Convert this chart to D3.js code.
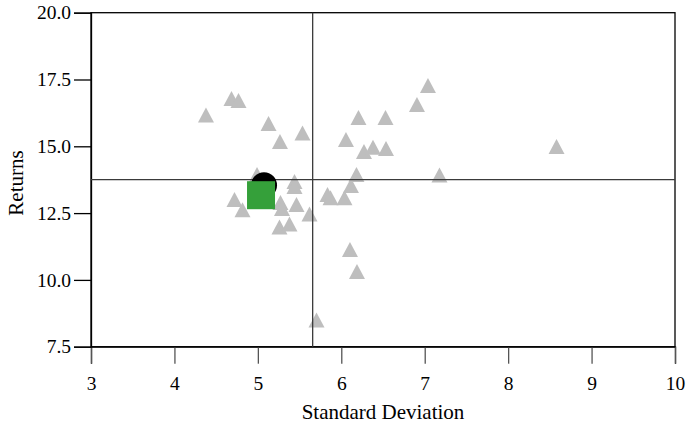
<!DOCTYPE html>
<html>
<head>
<meta charset="utf-8">
<script src="https://cdn.jsdelivr.net/npm/d3@7"></script>
<style>
  html, body { margin: 0; padding: 0; background: #fff; }
  svg { display: block; }
  svg text { font-family: "Liberation Serif", "Times New Roman", serif !important; fill: #000; }
</style>
</head>
<body>
<svg id="chart" width="688" height="427"></svg>
<script>
// Data: portfolios (standard deviation, returns)
const stdDev = [4.378, 4.684, 4.768, 5.128, 5.265, 5.535, 7.039, 6.907, 6.206, 6.530,
                6.056, 6.272, 6.380, 6.536, 8.580, 7.177, 6.182, 6.116, 6.038, 5.835,
                5.871, 4.990, 4.720, 4.816, 5.439, 5.439, 5.271, 5.289, 5.463, 5.619,
                5.259, 5.379, 6.104, 6.188, 5.703];
const returns = [16.17, 16.79, 16.71, 15.85, 15.18, 15.50, 17.28, 16.56, 16.08, 16.08,
                 15.25, 14.81, 14.96, 14.92, 14.99, 13.93, 13.94, 13.53, 13.07, 13.20,
                 13.07, 13.94, 13.01, 12.63, 13.68, 13.50, 12.90, 12.67, 12.82, 12.47,
                 11.98, 12.09, 11.14, 10.31, 8.50];
const circlePoint = [5.074, 13.54];
const squarePoint = [5.038, 13.17];
const meanStd = 5.657;
const meanRet = 13.75;
const xTicks = [3, 4, 5, 6, 7, 8, 9, 10];
const yTicks = [7.5, 10.0, 12.5, 15.0, 17.5, 20.0];
const xLabel = "Standard Deviation";
const yLabel = "Returns";

const FONT = "'Liberation Serif', 'Times New Roman', serif";
const svg = d3.select("#chart");
const mLeft = 91, mRight = 675, mTop = 12.7, mBottom = 346.7;

const x = d3.scaleLinear().domain([3, 10]).range([mLeft, mRight]);
const y = d3.scaleLinear().domain([7.5, 20]).range([mBottom, mTop]);

// axes
const xAxis = svg.append("g")
  .attr("transform", `translate(0,${mBottom})`)
  .call(d3.axisBottom(x).tickValues(xTicks).tickFormat(d3.format("d")).tickSize(17).tickPadding(12.5));
xAxis.attr("font-family", null).attr("font-size", null);
xAxis.select(".domain").attr("stroke", "#000").attr("stroke-width", 1.3);
xAxis.selectAll(".tick line").attr("stroke", "#555").attr("stroke-width", 1.3);
xAxis.selectAll(".tick text").style("font-family", FONT).style("font-size", "19.5px").attr("fill", "#000");

const yAxis = svg.append("g")
  .attr("transform", `translate(${mLeft},0)`)
  .call(d3.axisLeft(y).tickValues(yTicks).tickFormat(d3.format(".1f")).tickSize(17).tickPadding(3));
yAxis.attr("font-family", null).attr("font-size", null);
yAxis.select(".domain").attr("stroke", "#000").attr("stroke-width", 1.3);
yAxis.selectAll(".tick line").attr("stroke", "#000").attr("stroke-width", 1.3);
yAxis.selectAll(".tick text").style("font-family", FONT).style("font-size", "19.5px").attr("fill", "#000");

// frame
svg.append("rect")
  .attr("x", mLeft).attr("y", mTop)
  .attr("width", mRight - mLeft).attr("height", mBottom - mTop)
  .attr("fill", "none").attr("stroke", "#000").attr("stroke-width", 1.3);

// triangles
const tw = 16, th = 15;
svg.append("g").selectAll("path")
  .data(stdDev.map((s, i) => [s, returns[i]]))
  .join("path")
  .attr("transform", d => `translate(${x(d[0])},${y(d[1])})`)
  .attr("d", `M0,${-th/2}L${tw/2},${th/2}L${-tw/2},${th/2}Z`)
  .attr("fill", "#bebebe");

// mean lines
svg.append("line")
  .attr("x1", x(meanStd)).attr("x2", x(meanStd))
  .attr("y1", mTop).attr("y2", mBottom)
  .attr("stroke", "#3a3a3a").attr("stroke-width", 1.3);
svg.append("line")
  .attr("x1", mLeft).attr("x2", mRight)
  .attr("y1", y(meanRet)).attr("y2", y(meanRet))
  .attr("stroke", "#3a3a3a").attr("stroke-width", 1.3);

// special points
svg.append("circle")
  .attr("cx", x(circlePoint[0])).attr("cy", y(circlePoint[1]))
  .attr("r", 13).attr("fill", "#000");
const sq = 28;
svg.append("rect")
  .attr("x", x(squarePoint[0]) - sq/2).attr("y", y(squarePoint[1]) - sq/2)
  .attr("width", sq).attr("height", sq)
  .attr("fill", "#35a03a");

// labels
svg.append("text")
  .attr("x", 383).attr("y", 419)
  .attr("text-anchor", "middle").style("font-size", "21px").style("font-family", FONT)
  .text(xLabel);
svg.append("text")
  .attr("transform", `translate(22.5,183) rotate(-90)`)
  .attr("text-anchor", "middle").style("font-size", "21px").style("font-family", FONT)
  .text(yLabel);
</script>
</body>
</html>
